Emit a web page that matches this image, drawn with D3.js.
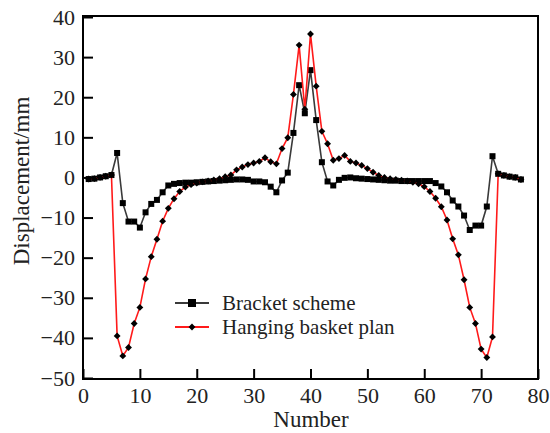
<!DOCTYPE html>
<html>
<head>
<meta charset="utf-8">
<script src="https://cdn.jsdelivr.net/npm/d3@7"></script>
<style>
  body { margin: 0; background: #fff; }
  text { font-family: "Liberation Serif", "DejaVu Serif", serif; fill: #222; }
</style>
</head>
<body>
<div id="chart"></div>
<script>
// Displacement along the section, two schemes (x = point number 1..77)
const numbers = d3.range(1, 78);

const bracket = [
  -0.4, -0.3, 0, 0.3, 0.6, 6.1, -6.4, -11, -11, -12.5,
  -8.7, -6.6, -5.6, -3.7, -2, -1.6, -1.4, -1.3, -1.3, -1.2,
  -1.1, -1.0, -0.9, -0.8, -0.7, -0.6, -0.5, -0.5, -0.6, -1.0,
  -1.0, -1.2, -2.3, -3.7, -0.75, 1.2, 11.1, 23, 16, 26.75,
  14.3, 3.8, -1.0, -2.0, -0.6, -0.1, 0, -0.2, -0.3, -0.4,
  -0.5, -0.6, -0.7, -0.8, -0.8, -0.9, -0.9, -0.9, -0.9, -0.9,
  -0.9, -1.4, -2.25, -3.7, -5.75, -7.25, -9.5, -13.1, -12, -12,
  -7.25, 5.3, 0.9, 0.5, 0.2, 0, -0.5
];

const basket = [
  -0.4, -0.3, 0, 0.3, 0.6, -39.5, -44.5, -42.4, -36.4, -32.4,
  -25.3, -19.75, -15.4, -10.9, -7.7, -5.3, -3.5, -2.4, -1.8, -1.4,
  -1.1, -0.9, -0.6, -0.3, 0.2, 0.6, 1.9, 2.6, 3.2, 3.6,
  4.0, 4.9, 3.9, 3.4, 7.2, 9.9, 20.7, 33, 17, 35.75,
  22.75, 11.5, 8.4, 4.3, 4.7, 5.5, 4.0, 3.6, 3.0, 2.2,
  1.3, 0.5, 0, -0.3, -0.5, -0.7, -0.9, -1.2, -1.6, -2.3,
  -3.5, -5.2, -7.3, -10.6, -15.3, -19.3, -25.5, -32.4, -36.4, -42.8,
  -44.9, -39.75, 0.9, 0.5, 0.2, 0, -0.5
];

const xTicks = [0, 10, 20, 30, 40, 50, 60, 70, 80];
const yTicks = [40, 30, 20, 10, 0, -10, -20, -30, -40, -50];

const seriesNames = ["Bracket scheme", "Hanging basket plan"];
const seriesColors = ["#3a3a3a", "#ff1a1a"];

const width = 550, height = 433;
const plotL = 83, plotR = 538, plotT = 17, plotB = 378;
const fontSize = 22;

const svg = d3.select("#chart").append("svg")
  .attr("width", width)
  .attr("height", height);

const x = d3.scaleLinear().domain([0, 80]).range([plotL, plotR]);
const y = d3.scaleLinear().domain([-50, 40]).range([plotB, plotT]);

// frame
svg.append("rect")
  .attr("x", plotL).attr("y", plotT - 1)
  .attr("width", plotR - plotL).attr("height", plotB - plotT + 2)
  .attr("fill", "none").attr("stroke", "#000").attr("stroke-width", 2);

// axes with inward ticks
const xAxis = svg.append("g")
  .attr("transform", `translate(0,${plotB + 1})`)
  .call(d3.axisBottom(x).tickValues(xTicks).tickSizeInner(-10).tickSizeOuter(0).tickPadding(8)
    .tickFormat(d3.format("d")));
const yAxis = svg.append("g")
  .attr("transform", `translate(${plotL},0)`)
  .call(d3.axisLeft(y).tickValues(yTicks).tickSizeInner(-10).tickSizeOuter(0).tickPadding(8)
    .tickFormat(d => d < 0 ? "\u2212" + Math.abs(d) : d));

[xAxis, yAxis].forEach(g => {
  g.select(".domain").remove();
  g.selectAll(".tick line").attr("stroke", "#000").attr("stroke-width", 2);
  g.selectAll(".tick text").attr("font-size", fontSize).attr("fill", "#222")
    .style("font-family", "Liberation Serif, serif");
});

// axis titles
svg.append("text")
  .attr("x", 311).attr("y", 427)
  .attr("text-anchor", "middle").attr("font-size", 23)
  .text("Number");
svg.append("text")
  .attr("transform", `translate(29,181) rotate(-90)`)
  .attr("text-anchor", "middle").attr("font-size", 23)
  .text("Displacement/mm");

const line = d3.line().x(d => x(d[0])).y(d => y(d[1]));
const bracketPts = numbers.map((n, i) => [n, bracket[i]]);
const basketPts = numbers.map((n, i) => [n, basket[i]]);

// bracket scheme: grey line, square markers
svg.append("path")
  .datum(bracketPts)
  .attr("d", line)
  .attr("fill", "none").attr("stroke", seriesColors[0]).attr("stroke-width", 1.6);
svg.append("g").selectAll("rect")
  .data(bracketPts).join("rect")
  .attr("x", d => x(d[0]) - 3).attr("y", d => y(d[1]) - 3)
  .attr("width", 6).attr("height", 6)
  .attr("fill", "#000");

// hanging basket plan: red line, diamond markers
svg.append("path")
  .datum(basketPts)
  .attr("d", line)
  .attr("fill", "none").attr("stroke", seriesColors[1]).attr("stroke-width", 1.6);
const diamond = d3.symbol().type(d3.symbolDiamond2).size(30);
svg.append("g").selectAll("path")
  .data(basketPts).join("path")
  .attr("transform", d => `translate(${x(d[0])},${y(d[1])})`)
  .attr("d", diamond)
  .attr("fill", "#000");

// legend
const legend = svg.append("g").attr("transform", "translate(175,303)");
seriesNames.forEach((name, i) => {
  const g = legend.append("g").attr("transform", `translate(0,${i * 24})`);
  g.append("line").attr("x1", 0).attr("x2", 34).attr("y1", 0).attr("y2", 0)
    .attr("stroke", seriesColors[i]).attr("stroke-width", 2);
  if (i === 0) {
    g.append("rect").attr("x", 13).attr("y", -4).attr("width", 8).attr("height", 8).attr("fill", "#000");
  } else {
    g.append("path").attr("transform", "translate(17,0)").attr("d", diamond).attr("fill", "#000");
  }
  g.append("text").attr("x", 47).attr("y", 7).attr("font-size", 21).text(name);
});
</script>
</body>
</html>
